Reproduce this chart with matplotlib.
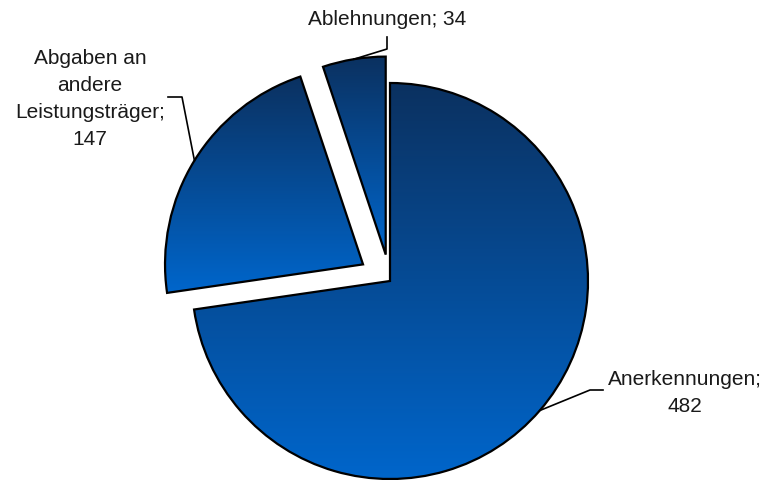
import numpy as np
import matplotlib
matplotlib.use("Agg")
import matplotlib.pyplot as plt
from matplotlib.colors import LinearSegmentedColormap

categories = ["Anerkennungen", "Abgaben an\nandere\nLeistungsträger", "Ablehnungen"]
values = [482, 147, 34]
explode = [0.0, 0.16, 0.135]

W, H = 767, 481
R = 198.0          # pie radius in pixels
CX, CY = 390.0, 282.0  # pie centre in pixels


def px(x, y):
    """pixel position -> data coords (radius units)"""
    return ((x - CX) / R, (CY - y) / R)


fig = plt.figure(figsize=(W / 100, H / 100), dpi=100)
ax = fig.add_axes([0, 0, 1, 1])

wedges, _ = ax.pie(values, startangle=90, counterclock=False, explode=explode,
                   radius=1.0, center=(0, 0),
                   wedgeprops=dict(facecolor="none", edgecolor="black", linewidth=1.6))

cmap = LinearSegmentedColormap.from_list("g", ["#0066cc", "#0b3160"])
grad = np.linspace(0, 1, 256).reshape(-1, 1)
for w in wedges:
    verts = w.get_path().vertices
    x0, x1 = verts[:, 0].min(), verts[:, 0].max()
    y0, y1 = verts[:, 1].min(), verts[:, 1].max()
    im = ax.imshow(grad, cmap=cmap, extent=(x0, x1, y0, y1), origin="lower",
                   aspect="auto", zorder=w.get_zorder() - 0.1, interpolation="bilinear")
    im.set_clip_path(w)


def arc_mid(w):
    t = np.deg2rad((w.theta1 + w.theta2) / 2)
    cx, cy = w.center
    return (cx + w.r * np.cos(t), cy + w.r * np.sin(t))


font = dict(family=["Liberation Sans", "DejaVu Sans"], fontsize=15, color="#1a1a1a")

# Anerkennungen
s = arc_mid(wedges[0])
e1, e2 = px(590, 391), px(603, 391)
ax.plot([s[0], e1[0], e2[0]], [s[1], e1[1], e2[1]], color="black", lw=1.2)
ax.text(*px(685, 393), f"{categories[0]};\n{values[0]}", ha="center", va="center",
        linespacing=1.55, **font)

# Abgaben
s = arc_mid(wedges[1])
e1, e2 = px(182, 98), px(168, 98)
ax.plot([s[0], e1[0], e2[0]], [s[1], e1[1], e2[1]], color="black", lw=1.2)
ax.text(*px(90, 99), f"{categories[1]};\n{values[1]}", ha="center", va="center",
        linespacing=1.55, **font)

# Ablehnungen
s = arc_mid(wedges[2])
e1, e2 = px(387, 50), px(387, 38)
ax.plot([s[0], e1[0], e2[0]], [s[1], e1[1], e2[1]], color="black", lw=1.2)
ax.text(*px(387, 20), f"{categories[2]}; {values[2]}", ha="center", va="center", **font)

ax.set_xlim(-CX / R, (W - CX) / R)
ax.set_ylim(-(H - CY) / R, CY / R)
ax.set_aspect("equal")
ax.axis("off")

fig.savefig("out.png", dpi=100)
